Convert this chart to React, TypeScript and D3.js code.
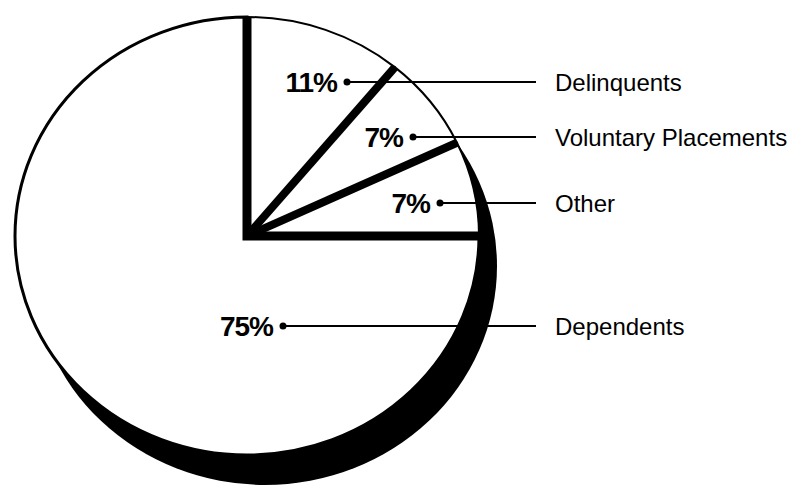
import React from "react";
import * as d3 from "d3";

// ---- data ----
const categories = ["Delinquents", "Voluntary Placements", "Other", "Dependents"];
const values = [11, 7, 7, 75];
const percentLabels = ["11%", "7%", "7%", "75%"];

// ---- layout (annotation placement, not data) ----
const W = 793;
const H = 485;
const cx = 247;
const cy = 236;
const rx = 232;
const ry = 219;
const shadowDx = 18;
const shadowDy = 30;
const labelLineY = [82, 137, 203, 326];
const labelDotX = [347, 413, 440, 283];
const leaderEndX = 536;
const categoryX = 555;

export default function App() {
  const pie = d3
    .pie<number>()
    .sort(null)
    .value((d) => d)
    .startAngle(0)
    .endAngle(2 * Math.PI);
  const arcs = pie(values);
  const arcGen = d3.arc<d3.PieArcDatum<number>>().innerRadius(0).outerRadius(1);

  const px = (a: number) => cx + rx * Math.sin(a);
  const py = (a: number) => cy - ry * Math.cos(a);

  // thick radial boundaries around the small slices
  const cornerPath = d3.line()([
    [px(0), py(0)],
    [cx, cy],
    [px(arcs[2].endAngle), py(arcs[2].endAngle)],
  ]);
  const separators = [arcs[0].endAngle, arcs[1].endAngle];

  return (
    <svg width={W} height={H} style={{ position: "absolute", left: 0, top: 0, background: "#fff" }}>
      <rect x={0} y={0} width={W} height={H} fill="#fff" />
      {/* 3D shadow */}
      <ellipse cx={cx + shadowDx} cy={cy + shadowDy} rx={rx} ry={ry} fill="#000" />
      {/* slices */}
      <g transform={`translate(${cx},${cy}) scale(${rx},${ry})`}>
        {arcs.map((a, i) => (
          <path
            key={i}
            d={arcGen(a) || ""}
            fill="#fff"
            stroke="#000"
            strokeWidth={i === 3 ? 3 : 2}
            vectorEffect="non-scaling-stroke"
          />
        ))}
      </g>
      <path d={cornerPath || ""} fill="none" stroke="#000" strokeWidth={9} strokeLinejoin="miter" />
      {separators.map((a, i) => (
        <line key={i} x1={cx} y1={cy} x2={px(a)} y2={py(a)} stroke="#000" strokeWidth={8} />
      ))}
      {/* labels */}
      {categories.map((c, i) => (
        <g key={c}>
          <line x1={labelDotX[i]} y1={labelLineY[i]} x2={leaderEndX} y2={labelLineY[i]} stroke="#000" strokeWidth={2} />
          <circle cx={labelDotX[i]} cy={labelLineY[i]} r={3.5} fill="#000" />
          <text
            x={labelDotX[i] - 10}
            y={labelLineY[i] + 10}
            textAnchor="end"
            fontFamily="Liberation Sans, Arial, sans-serif"
            fontWeight="bold"
            fontSize={28}
            letterSpacing={-1}
            fill="#000"
          >
            {percentLabels[i]}
          </text>
          <text
            x={categoryX}
            y={labelLineY[i] + 9}
            fontFamily="Liberation Sans, Arial, sans-serif"
            fontSize={24}
            fill="#000"
          >
            {c}
          </text>
        </g>
      ))}
    </svg>
  );
}
